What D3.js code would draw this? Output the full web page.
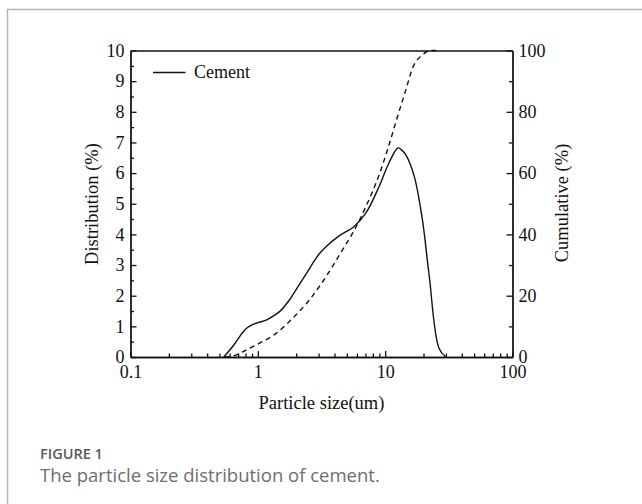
<!DOCTYPE html>
<html>
<head>
<meta charset="utf-8">
<script src="https://cdn.jsdelivr.net/npm/d3@7"></script>
<style>
  body { margin: 0; background: #fff; }
  svg text { font-family: "Liberation Serif", "Times New Roman", serif; fill: #111; }
</style>
</head>
<body>
<svg id="chart"></svg>
<script>
// particle size (um) and distribution (%)
var sizeDist = [0.54, 0.65, 0.76, 0.83, 0.9, 1.0, 1.16, 1.3, 1.48, 1.77, 2.0, 2.39, 2.69, 3.03, 3.43, 4.35, 5.7, 7.06, 8.98, 10.7, 12.6, 13.5, 14.5, 16.9, 19.6, 22.1, 26.5, 30];
var dist = [0, 0.4, 0.8, 0.96, 1.05, 1.12, 1.2, 1.32, 1.48, 1.86, 2.2, 2.7, 3.05, 3.36, 3.6, 3.95, 4.26, 4.7, 5.57, 6.33, 6.82, 6.75, 6.6, 5.9, 4.48, 2.7, 0.28, 0];

// particle size (um) and cumulative (%)
var sizeCum = [0.55, 0.65, 0.76, 1.03, 1.39, 1.87, 2.54, 3.43, 4.63, 5.55, 7.06, 8.98, 10.5, 12.3, 14.5, 16.5, 19.5, 23, 25];
var cum = [0, 0.4, 1.7, 4.5, 7.7, 12.6, 18.6, 26.2, 35, 40.4, 49.1, 59.5, 68, 77.5, 87, 94.5, 98.5, 100, 100];

var xTicks = [0.1, 1, 10, 100];
var xTickLabels = ["0.1", "1", "10", "100"];
var leftTicks = d3.range(0, 11);
var rightTicks = [0, 20, 40, 60, 80, 100];

var width = 642, height = 504;

var svg = d3.select("#chart")
  .attr("width", width)
  .attr("height", height);

// card frame
svg.append("path")
  .attr("d", "M7.5,504 L7.5,9.5 L642,9.5")
  .attr("fill", "none")
  .attr("stroke", "#b4b4b4")
  .attr("stroke-width", 1.5);

var x = d3.scaleLog().domain([0.1, 100]).range([130.5, 512.5]);
var yL = d3.scaleLinear().domain([0, 10]).range([357, 50.5]);
var yR = d3.scaleLinear().domain([0, 100]).range([357, 50.5]);

function styleAxis(g) {
  g.selectAll("path, line").attr("stroke", "#111").attr("stroke-width", 1.3);
  g.selectAll("text").attr("font-size", 18).attr("fill", "#111");
}

// minor ticks
var xMinor = x.ticks().filter(function(d) { return xTicks.indexOf(d) < 0; });
svg.append("g")
  .attr("transform", "translate(0,357)")
  .call(d3.axisBottom(x).tickValues(xMinor).tickFormat("").tickSize(-3.5).tickSizeOuter(0))
  .call(styleAxis);
svg.append("g")
  .attr("transform", "translate(130.5,0)")
  .call(d3.axisLeft(yL).tickValues(d3.range(0.5, 10, 1)).tickFormat("").tickSize(-3.5).tickSizeOuter(0))
  .call(styleAxis);
svg.append("g")
  .attr("transform", "translate(512.5,0)")
  .call(d3.axisRight(yR).tickValues([10, 30, 50, 70, 90]).tickFormat("").tickSize(-3.5).tickSizeOuter(0))
  .call(styleAxis);

// major axes
svg.append("g")
  .attr("transform", "translate(0,357)")
  .call(d3.axisBottom(x).tickValues(xTicks)
    .tickFormat(function(d, i) { return xTickLabels[i]; })
    .tickSize(-6).tickSizeOuter(0).tickPadding(8))
  .call(styleAxis);
svg.append("g")
  .attr("transform", "translate(130.5,0)")
  .call(d3.axisLeft(yL).tickValues(leftTicks).tickFormat(d3.format("d"))
    .tickSize(-6).tickSizeOuter(0).tickPadding(6))
  .call(styleAxis);
svg.append("g")
  .attr("transform", "translate(512.5,0)")
  .call(d3.axisRight(yR).tickValues(rightTicks).tickFormat(d3.format("d"))
    .tickSize(-6).tickSizeOuter(0).tickPadding(6))
  .call(styleAxis);
svg.append("g")
  .attr("transform", "translate(0,50.5)")
  .call(d3.axisTop(x).tickValues([]).tickSizeOuter(0))
  .call(styleAxis);

// curves
var distLine = d3.line()
  .x(function(d) { return x(d[0]); })
  .y(function(d) { return yL(d[1]); })
  .curve(d3.curveCatmullRom.alpha(0.5));
var cumLine = d3.line()
  .x(function(d) { return x(d[0]); })
  .y(function(d) { return yR(d[1]); })
  .curve(d3.curveMonotoneX);

svg.append("path")
  .datum(d3.zip(sizeCum, cum))
  .attr("d", cumLine)
  .attr("fill", "none")
  .attr("stroke", "#111")
  .attr("stroke-width", 1.4)
  .attr("stroke-dasharray", "5,4");

svg.append("path")
  .datum(d3.zip(sizeDist, dist))
  .attr("d", distLine)
  .attr("fill", "none")
  .attr("stroke", "#111")
  .attr("stroke-width", 1.4);

// legend
svg.append("line")
  .attr("x1", 153).attr("x2", 185.5)
  .attr("y1", 72.5).attr("y2", 72.5)
  .attr("stroke", "#111").attr("stroke-width", 1.4);
svg.append("text")
  .attr("x", 194).attr("y", 78)
  .attr("font-size", 18)
  .text("Cement");

// axis titles
svg.append("text")
  .attr("x", 321.5).attr("y", 409)
  .attr("text-anchor", "middle")
  .attr("font-size", 18.5)
  .text("Particle size(um)");
svg.append("text")
  .attr("transform", "translate(98,204) rotate(-90)")
  .attr("text-anchor", "middle")
  .attr("font-size", 18.5)
  .text("Distribution (%)");
svg.append("text")
  .attr("transform", "translate(568,203) rotate(-90)")
  .attr("text-anchor", "middle")
  .attr("font-size", 18.5)
  .text("Cumulative (%)");

// caption
svg.append("text")
  .attr("x", 40).attr("y", 459)
  .style("font-family", "'Open Sans', sans-serif")
  .attr("font-size", 14.5)
  .attr("font-weight", 600)
  .style("fill", "#585858")
  .text("FIGURE 1");
svg.append("text")
  .attr("x", 40).attr("y", 482)
  .style("font-family", "'Open Sans', sans-serif")
  .attr("font-size", 18.5)
  .style("fill", "#6e6e6e")
  .text("The particle size distribution of cement.");
</script>
</body>
</html>
